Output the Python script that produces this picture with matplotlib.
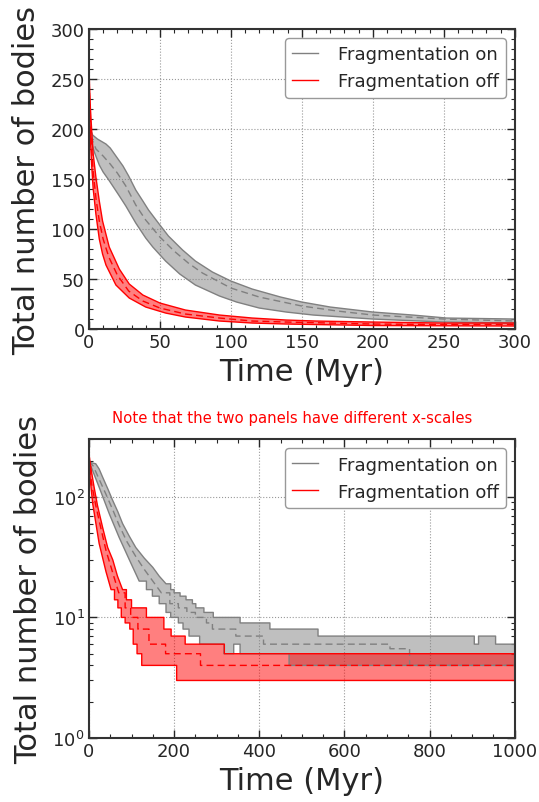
import numpy as np
import matplotlib.pyplot as plt
from matplotlib.ticker import MultipleLocator, LogLocator

# --- Top panel (0-300 Myr, linear) ---
t_on_up = [0, 1, 2.6, 6, 9.6, 12, 15, 19, 24, 28, 33, 38, 42, 50, 56, 66, 75, 87,
           100, 115, 135, 150, 170, 200, 228, 252, 300]
on_up = [208, 200, 194, 190, 187, 185, 181, 173, 163, 153, 139, 128, 119, 104,
         93, 79, 68, 57, 48, 40, 32, 27, 22, 17, 14, 11, 10]
t_on_med = [0, 2, 5, 10, 15, 20, 26, 33, 40, 50, 60, 70, 80, 100, 120, 150, 175,
            200, 250, 300]
on_med = [204, 190, 180, 173, 165, 156, 143, 124, 109, 92, 78, 66, 56, 41, 32,
          23, 18, 14, 10, 8]
t_on_lo = [0, 1, 3.8, 7.3, 10, 14, 21, 26, 33, 40, 45, 54, 64, 75, 92, 104, 120,
           139, 158, 200, 250, 300]
on_lo = [200, 190, 177, 164, 157, 149, 134, 123, 106, 91, 82, 68, 55, 44, 33,
         27, 21, 17, 14, 10, 7, 6]

t_off_up = [0, 0.5, 1, 2, 3, 4.9, 7.3, 9.6, 14.3, 21.4, 28.4, 38, 50, 68, 92,
            115, 139, 160, 200, 250, 300]
off_up = [262, 240, 222, 197, 175, 152, 128, 108, 82, 60, 45, 34, 26, 19, 14,
          11, 9, 8, 7, 6, 6]
t_off_med = [0, 0.5, 1, 2, 3, 5, 7.3, 10, 14, 20, 28, 38, 50, 68, 92, 115, 139,
             200, 250, 300]
off_med = [258, 228, 205, 178, 157, 130, 108, 90, 72, 54, 38, 28, 21, 15, 11, 8,
           7, 5, 4.5, 4.5]
t_off_lo = [0, 0.5, 1, 2, 3, 4.9, 7.3, 9.6, 12, 19, 28.4, 40, 54, 68, 92, 115,
            139, 200, 300]
off_lo = [255, 215, 190, 162, 140, 115, 90, 75, 64, 44, 31, 22, 16, 12, 8, 6, 5,
          3.5, 3]

# --- Bottom panel (0-1000 Myr, log): smooth start, then integer steps ---
b_on_up_t = [0, 5, 16, 24, 32, 45, 56, 68, 79, 95, 110, 130, 150, 165, 181]
b_on_up = [195, 192, 188, 170, 146, 115, 93, 75, 60, 47, 38, 31, 26, 22, 19]
b_on_up_st = [181, 192, 200, 214, 228, 243, 251, 270, 292, 355, 425, 538, 905,
              915, 955, 1000]
b_on_up_sv = [19, 17, 16, 15, 14, 13, 12, 11, 10, 9, 8, 7, 6, 7, 6, 6]

b_on_med_t = [0, 10, 24, 40, 56, 71, 90, 110, 130, 150, 170]
b_on_med = [198, 180, 140, 105, 78, 58, 42, 32, 25, 20, 16]
b_on_med_st = [170, 190, 210, 230, 250, 276, 290, 345, 410, 707, 753, 1000]
b_on_med_sv = [16, 13, 12, 11, 10, 9, 8, 7, 6, 5.5, 4, 4]

b_on_lo_t = [0, 5, 24, 48, 71, 95, 118]
b_on_lo = [190, 178, 120, 72, 46, 30, 20]
b_on_lo_st = [118, 135, 149, 165, 181, 192, 210, 221, 235, 260, 317, 340, 355,
              470, 1000]
b_on_lo_sv = [20, 17, 15, 13, 11, 10, 9, 8, 7, 6, 5, 6, 5, 4, 4]

b_off_up_t = [0, 5, 12, 20, 32, 44, 56, 67, 79]
b_off_up = [227, 170, 121, 85, 56, 38, 30, 22, 17]
b_off_up_st = [79, 88, 100, 135, 176, 193, 226, 318, 1000]
b_off_up_sv = [17, 14, 12, 10, 8, 7, 6, 5, 5]

b_off_med_t = [0, 6, 16, 28, 40, 55, 70]
b_off_med = [215, 130, 85, 55, 36, 24, 16]
b_off_med_st = [70, 85, 98, 115, 141, 180, 262, 1000]
b_off_med_sv = [16, 12, 10, 8, 6, 5, 4, 4]

b_off_lo_t = [0, 3, 9, 24, 40, 52]
b_off_lo = [205, 140, 87, 41, 24, 17]
b_off_lo_st = [52, 60, 68, 76, 85, 96, 104, 113, 124, 206, 1000]
b_off_lo_sv = [17, 14, 12, 10, 9, 8, 6, 5, 4, 3, 3]

txt = '#262626'
plt.rcParams['font.family'] = 'DejaVu Sans'
plt.rcParams['text.color'] = txt
plt.rcParams['axes.labelcolor'] = txt
plt.rcParams['xtick.color'] = txt
plt.rcParams['ytick.color'] = txt

fig = plt.figure(figsize=(5.39, 8.03), dpi=100)
ax1 = fig.add_axes([0.165, 0.589, 0.790, 0.3736])
ax2 = fig.add_axes([0.165, 0.0797, 0.790, 0.372])

gcol = '#808080'
rcol = 'red'
dash = (5, 3)


def trace(t, v, st=None, sv=None):
    # smooth part followed by a post-step part
    x, y = list(t), list(v)
    if st is not None:
        for i in range(1, len(st)):
            x += [st[i], st[i]]
            y += [sv[i - 1], sv[i]]
    return np.array(x, float), np.array(y, float)


def band(ax, up, lo, med, c):
    xu, yu = up
    xl, yl = lo
    ax.fill(np.r_[xu, xl[::-1]], np.r_[yu, yl[::-1]], color=c, alpha=0.5, lw=0)
    ax.plot(xu, yu, color=c, lw=1)
    ax.plot(xl, yl, color=c, lw=1)
    ax.plot(med[0], med[1], color=c, lw=1, dashes=dash)


def style(ax):
    for sp in ax.spines.values():
        sp.set_linewidth(1.5)
        sp.set_color('#333333')
    ax.tick_params(which='both', direction='in', top=True, right=True,
                   labelsize=13, pad=3)
    ax.tick_params(which='major', length=6, width=1)
    ax.tick_params(which='minor', length=3, width=0.8)
    ax.grid(True, which='major', color='#999999', linestyle=':', linewidth=0.8)
    ax.set_axisbelow(True)
    ax.set_xlabel('Time (Myr)', fontsize=22, labelpad=4)
    ax.set_ylabel('Total number of bodies', fontsize=22, labelpad=7)
    ax.plot([], [], color=gcol, lw=1, label='Fragmentation on')
    ax.plot([], [], color=rcol, lw=1, label='Fragmentation off')
    ax.legend(loc='upper right', fontsize=13, handlelength=1.4,
              handletextpad=1.1, framealpha=1, edgecolor='#999999')


# top panel
band(ax1, trace(t_on_up, on_up), trace(t_on_lo, on_lo),
     trace(t_on_med, on_med), gcol)
band(ax1, trace(t_off_up, off_up), trace(t_off_lo, off_lo),
     trace(t_off_med, off_med), rcol)
ax1.set_xlim(0, 300)
ax1.set_ylim(0, 300)
ax1.xaxis.set_major_locator(MultipleLocator(50))
ax1.xaxis.set_minor_locator(MultipleLocator(10))
ax1.yaxis.set_major_locator(MultipleLocator(50))
ax1.yaxis.set_minor_locator(MultipleLocator(10))
style(ax1)

# bottom panel
band(ax2, trace(b_on_up_t, b_on_up, b_on_up_st, b_on_up_sv),
     trace(b_on_lo_t, b_on_lo, b_on_lo_st, b_on_lo_sv),
     trace(b_on_med_t, b_on_med, b_on_med_st, b_on_med_sv), gcol)
band(ax2, trace(b_off_up_t, b_off_up, b_off_up_st, b_off_up_sv),
     trace(b_off_lo_t, b_off_lo, b_off_lo_st, b_off_lo_sv),
     trace(b_off_med_t, b_off_med, b_off_med_st, b_off_med_sv), rcol)
ax2.set_yscale('log')
ax2.set_xlim(0, 1000)
ax2.set_ylim(1, 300)
ax2.xaxis.set_major_locator(MultipleLocator(200))
ax2.xaxis.set_minor_locator(MultipleLocator(50))
ax2.yaxis.set_major_locator(LogLocator(base=10))
ax2.yaxis.set_minor_locator(LogLocator(base=10, subs=np.arange(2, 10)))
style(ax2)

fig.text(0.542, 0.479, 'Note that the two panels have different x-scales',
         color='red', fontsize=10.7, ha='center', va='center')

fig.savefig('out.png', dpi=100)
